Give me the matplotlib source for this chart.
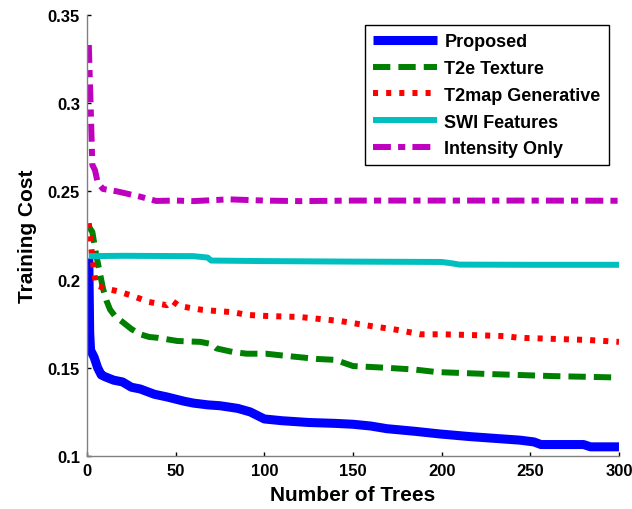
import numpy as np
import matplotlib.pyplot as plt

plt.rcParams['font.family'] = ['Liberation Sans', 'DejaVu Sans']
plt.rcParams['font.weight'] = 'bold'

# training cost vs. number of trees, one curve per feature set
trees_proposed = [1, 1.5, 2, 4, 6, 8, 10, 15, 20, 25, 30, 38, 45, 55, 60, 68, 75, 85, 92, 97,
                  100, 110, 125, 140, 150, 160, 169, 185, 199, 216, 230, 244, 252, 256,
                  270, 280, 284, 300]
cost_proposed = [0.212, 0.17, 0.16, 0.156, 0.150, 0.146, 0.145, 0.143, 0.142, 0.139, 0.138,
                 0.135, 0.1335, 0.131, 0.130, 0.129, 0.1285, 0.127, 0.125, 0.1225,
                 0.121, 0.120, 0.119, 0.1185, 0.118, 0.117, 0.1155, 0.114, 0.1125, 0.111,
                 0.110, 0.109, 0.108, 0.1065, 0.1065, 0.1065, 0.1052, 0.1052]

trees_t2e = [1, 3, 5, 7, 9, 11, 13, 16, 20, 25, 30, 35, 40, 51, 64, 70, 73, 82, 90, 101, 110,
             120, 130, 140, 150, 169, 185, 197, 226, 263, 300]
cost_t2e = [0.230, 0.227, 0.215, 0.205, 0.195, 0.188, 0.183, 0.179, 0.176, 0.172, 0.169,
            0.1675, 0.167, 0.1652, 0.1647, 0.1635, 0.161, 0.159, 0.158, 0.158, 0.157,
            0.156, 0.155, 0.1545, 0.151, 0.150, 0.149, 0.1476, 0.1465, 0.1453, 0.1445]

trees_t2map = [1, 2, 3, 4, 5, 10, 17, 25, 35, 45, 48, 52, 64, 75, 82, 90, 101, 120, 131,
               143, 160, 175, 188, 200, 216, 235, 244, 260, 282, 300]
cost_t2map = [0.232, 0.222, 0.212, 0.205, 0.197, 0.195, 0.1935, 0.191, 0.1873, 0.1855,
              0.188, 0.185, 0.183, 0.182, 0.1816, 0.180, 0.1794, 0.1788, 0.1777, 0.1765,
              0.1737, 0.1715, 0.169, 0.169, 0.1686, 0.168, 0.167, 0.1665, 0.1658, 0.1647]

trees_swi = [1, 20, 40, 60, 68, 70, 100, 150, 200, 206, 210, 250, 300]
cost_swi = [0.2133, 0.2135, 0.2134, 0.2133, 0.2125, 0.2108, 0.2105, 0.2102, 0.2100,
            0.2092, 0.2085, 0.2084, 0.2084]

trees_intensity = [1, 2, 3, 4.5, 6, 9, 17, 30, 39, 50, 60, 80, 100, 120, 150, 200, 250, 300]
cost_intensity = [0.333, 0.300, 0.265, 0.262, 0.255, 0.2514, 0.250, 0.247, 0.2446, 0.2448,
                  0.2445, 0.2455, 0.2448, 0.2445, 0.2448, 0.2448, 0.2448, 0.2447]

x_ticks = [0, 50, 100, 150, 200, 250, 300]
y_ticks = [0.1, 0.15, 0.2, 0.25, 0.3, 0.35]

fig = plt.figure(figsize=(6.32, 5.10), dpi=100)
ax = fig.add_axes([0.1377, 0.1039, 0.8417, 0.8647])

lw = 4.3
ax.plot(trees_proposed, cost_proposed, color='#0000ff', lw=6.5, solid_capstyle='butt',
        label='Proposed')
ax.plot(trees_t2e, cost_t2e, color='#008000', lw=lw, dashes=(2.9, 1.35),
        dash_capstyle='butt', label='T2e Texture')
ax.plot(trees_t2map, cost_t2map, color='#ff0000', lw=lw, dashes=(0.85, 1.35),
        dash_capstyle='butt', label='T2map Generative')
ax.plot(trees_swi, cost_swi, color='#00bfbf', lw=lw, solid_capstyle='butt',
        label='SWI Features')
ax.plot(trees_intensity, cost_intensity, color='#bf00bf', lw=lw,
        dashes=(3.0, 1.2, 1.2, 1.2), dash_capstyle='butt', label='Intensity Only')

ax.set_xlim(0, 300)
ax.set_ylim(0.1, 0.35)
ax.set_xticks(x_ticks)
ax.set_xticklabels([str(t) for t in x_ticks])
ax.set_yticks(y_ticks)
ax.set_yticklabels(['0.1', '0.15', '0.2', '0.25', '0.3', '0.35'])

for side in ['top', 'right']:
    ax.spines[side].set_visible(False)
for side in ['left', 'bottom']:
    ax.spines[side].set_color('#808080')
    ax.spines[side].set_linewidth(1.0)

ax.tick_params(direction='in', length=3, width=1, color='black', labelsize=12, pad=5)
for lab in ax.get_xticklabels() + ax.get_yticklabels():
    lab.set_fontweight('bold')

ax.set_xlabel('Number of Trees', fontsize=15, fontweight='bold', labelpad=5)
ax.set_ylabel('Training Cost', fontsize=15, fontweight='bold', labelpad=8)

leg = ax.legend(loc='upper right', bbox_to_anchor=(0.981, 0.977), fontsize=13,
                handlelength=3.55, handletextpad=0.4, labelspacing=0.54,
                borderpad=0.45, borderaxespad=0, fancybox=False, framealpha=1,
                edgecolor='black')
leg.get_frame().set_linewidth(1.0)
for t in leg.get_texts():
    t.set_fontweight('bold')

fig.savefig('out.png', dpi=100)
